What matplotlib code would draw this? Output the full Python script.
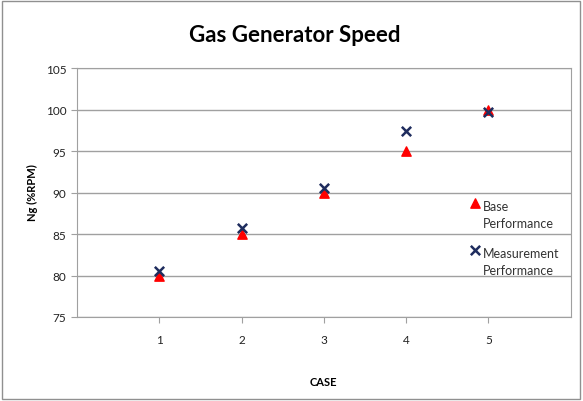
import matplotlib
matplotlib.use("Agg")
import matplotlib.pyplot as plt
from matplotlib.patches import Rectangle
from matplotlib.legend_handler import HandlerPathCollection

cases = [1, 2, 3, 4, 5]
base_perf = [79.9, 85.0, 90.0, 95.0, 100.0]
meas_perf = [80.6, 85.7, 90.6, 97.4, 99.7]

plt.rcParams["font.family"] = ["Lato", "DejaVu Sans"]

fig = plt.figure(figsize=(5.83, 4.02), dpi=100)
ax = fig.add_axes([0.132, 0.209, 0.847, 0.619])

base = ax.scatter(cases, base_perf, marker="^", s=45, color="#ff0000", edgecolors="#ff0000",
                  label="Base\nPerformance", zorder=3)
meas = ax.scatter(cases, meas_perf, marker="x", s=45, color="#1f2d5e", linewidths=1.8,
                  label="Measurement\nPerformance", zorder=4)

ax.set_xlim(0, 6)
ax.set_ylim(75, 105)
ax.set_xticks(cases)
ax.set_yticks(range(75, 106, 5))
ax.yaxis.grid(True, color="#a0a0a0", linewidth=1)
ax.set_axisbelow(True)
for side in ["left", "bottom", "right", "top"]:
    ax.spines[side].set_color("#a0a0a0")
ax.tick_params(axis="both", colors="#a0a0a0", labelcolor="#222222", labelsize=8.5, length=4)
ax.tick_params(axis="x", pad=8)

fig.text(0.505, 0.912, "Gas Generator Speed", ha="center", va="center",
         fontsize=16, fontweight="bold")
fig.text(0.055, 0.52, "Ng (%RPM)", rotation=90, ha="center", va="center",
         fontsize=8, fontweight="bold")
fig.text(0.554, 0.048, "CASE", ha="center", va="center", fontsize=8, fontweight="bold")

# marker next to first line of the two-line label
hmap = {base: HandlerPathCollection(yoffsets=[1.9]), meas: HandlerPathCollection(yoffsets=[1.9])}
leg = ax.legend(loc="upper left", bbox_to_anchor=(0.784, 0.49), frameon=False, fontsize=9,
                handletextpad=0.1, labelspacing=1.5, borderaxespad=0, handlelength=1,
                handler_map=hmap, labelcolor="#333333")
for t in leg.get_texts():
    t.set_linespacing(1.45)

fig.patches.append(Rectangle((0.004, 0.005), 0.99, 0.99, transform=fig.transFigure,
                             fill=False, edgecolor="#909090", linewidth=1))

fig.savefig("out.png", dpi=100)
